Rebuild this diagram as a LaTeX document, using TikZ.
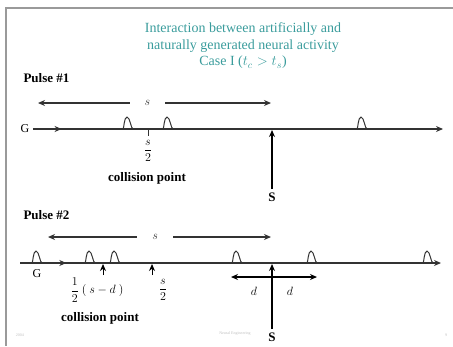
\documentclass[tikz,border=0pt]{standalone}
\usepackage{fontspec}
\setmainfont{Liberation Serif}
\usepackage{amsmath}
\usetikzlibrary{arrows.meta,decorations.markings}

\definecolor{ttlteal}{HTML}{3A9C9C}
\definecolor{framegray}{HTML}{9A9A9A}
\definecolor{inkgray}{HTML}{333333}

\begin{document}
\begin{tikzpicture}[x=1pt,y=-1pt,font=\rmfamily,>={Stealth[length=7pt,width=6pt]},
  lbl/.style={font=\fontsize{12}{14}\selectfont},
  bold/.style={font=\fontsize{13}{15}\selectfont\bfseries},
  ttl/.style={font=\fontsize{14}{16.5}\selectfont,text=ttlteal,align=center},
  axisln/.style={line width=1.3pt,inkgray,->},
  dimln/.style={line width=1.3pt,inkgray,<->},
  stim/.style={line width=1.5pt,black,->},
  tick/.style={line width=0.8pt,inkgray},
  foot/.style={font=\fontsize{4}{5}\selectfont,text=black!25},
  spike/.pic={\draw[line width=1pt,inkgray]
    (-8,0) -- (-5,0) .. controls (-4,0) and (-4,-12) .. (-1,-12)
    .. controls (2,-12) and (3,0) .. (5,0) -- (6,0);},
  fwd/.style={postaction={decorate},decoration={markings,
    mark=at position #1 with {\arrow{Stealth[length=7pt,width=6pt]}}}},
]
\useasboundingbox (0,0) rectangle (453,346);

% ============================================================
% Frame and title
% ============================================================
\draw[framegray,line width=2pt] (5,7.5) -- (453,7.5);
\draw[framegray,line width=2pt] (6,7) -- (6,346);

\node[ttl] (title) at (243,46)
  {Interaction between artificially and\\naturally generated neural activity\\Case I ($t_c > t_s$)};

% ============================================================
% Pulse #1
% ============================================================
\begin{scope}
  \node[bold,anchor=west] (p1) at (20,78) {Pulse \#1};

  % Distance s
  \coordinate (s1l) at (38,103);
  \coordinate (s1r) at (271,103);
  \draw[dimln] (s1l) -- (s1r)
    node[pos=0.47,fill=white,inner xsep=15pt,inner ysep=1pt,lbl] (s1) {$s$};

  % Axon
  \node[lbl] (g1) at (25,129) {G};
  \coordinate (e1) at (443,129);
  \draw[axisln,fwd=0.07] (g1) -- (e1);

  % Action potentials
  \pic at (128,129) {spike};
  \pic at (168,129) {spike};
  \pic at (362,129) {spike};

  % Collision point
  \coordinate (c1) at (148,129);
  \coordinate (c1b) at (148,136);
  \draw[tick] (c1) -- (c1b);
  \node[lbl] (half1) at (148,151) {$\dfrac{s}{2}$};
  \node[bold] (col1) at (147,178) {collision point};

  % Stimulus
  \node[bold] (st1) at (272,197) {S};
  \coordinate (h1) at (272,130);
  \draw[stim] (st1) -- (h1);
\end{scope}

% ============================================================
% Pulse #2
% ============================================================
\begin{scope}
  \node[bold,anchor=west] (p2) at (20,215) {Pulse \#2};

  % Distance s
  \coordinate (s2l) at (48,237);
  \coordinate (s2r) at (271,237);
  \draw[dimln] (s2l) -- (s2r)
    node[pos=0.48,fill=white,inner xsep=15pt,inner ysep=1pt,lbl] (s2) {$s$};

  % Axon
  \coordinate (a2) at (20,263);
  \coordinate (e2) at (441,263);
  \draw[axisln,fwd=0.11] (a2) -- (e2);
  \node[lbl] (g2) at (37,274) {G};

  % Action potentials
  \pic at (37,263) {spike};
  \pic at (90,263) {spike};
  \pic at (115,263) {spike};
  \pic at (237,263) {spike};
  \pic at (312,263) {spike};
  \pic at (428,263) {spike};

  % Collision points
  \coordinate (c2a) at (103,264);
  \coordinate (c2ab) at (103,275);
  \draw[stim,line width=1pt] (c2ab) -- (c2a);
  \coordinate (c2b) at (152,264);
  \coordinate (c2bb) at (152,275);
  \draw[stim,line width=1pt] (c2bb) -- (c2b);
  \node[lbl] (half2a) at (97,290) {$\dfrac{1}{2}\ (\ s - d\ )$};
  \node[lbl] (half2b) at (163,290) {$\dfrac{s}{2}$};
  \node[bold] (col2) at (100,318) {collision point};

  % Stimulus and spread d
  \node[bold] (st2) at (272,337) {S};
  \coordinate (h2) at (272,264);
  \draw[stim] (st2) -- (h2);
  \coordinate (dc) at (272,277);
  \coordinate (dl) at (231,277);
  \coordinate (dr) at (317,277);
  \draw[stim,line width=1.3pt] (dc) -- (dl);
  \draw[stim,line width=1.3pt] (dc) -- (dr);
  \node[lbl] (d1) at (254,291) {$d$};
  \node[lbl] (d2) at (290,291) {$d$};
\end{scope}

% Footer
\node[foot] (fl) at (20,335) {2004};
\node[foot] (fc) at (235,334) {Neural Engineering};
\node[foot] (fr) at (446,335) {9};

\end{tikzpicture}
\end{document}
